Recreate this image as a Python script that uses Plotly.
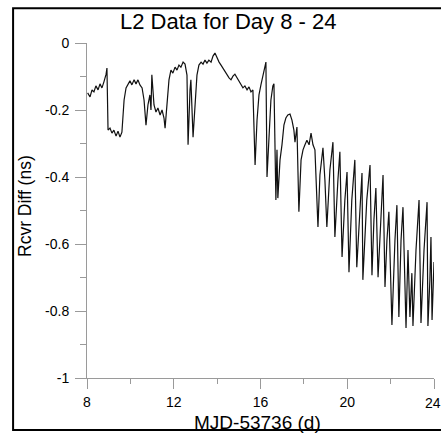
import plotly.graph_objects as go

# Data (MJD-53736 in days, receiver difference in ns)
days = [
    8.03, 8.14, 8.23, 8.32, 8.41, 8.51, 8.60, 8.69, 8.78, 8.88, 8.92,
    8.97, 9.06, 9.15, 9.24, 9.34, 9.43, 9.52, 9.61, 9.71, 9.80, 9.89,
    9.98, 10.07, 10.17, 10.26, 10.35, 10.44, 10.54, 10.63, 10.72, 10.81,
    10.90, 10.95, 10.99, 11.09, 11.18, 11.27, 11.37, 11.46, 11.55, 11.60,
    11.69, 11.78, 11.87, 11.96, 12.06, 12.15, 12.24, 12.33, 12.43, 12.52,
    12.61, 12.66, 12.75, 12.79, 12.89, 12.98, 13.07, 13.16, 13.26, 13.35,
    13.44, 13.53, 13.62, 13.72, 13.81, 13.90, 13.99, 14.09, 14.18, 14.27,
    14.36, 14.45, 14.55, 14.64, 14.73, 14.82, 14.92, 15.01, 15.10, 15.19,
    15.28, 15.38, 15.47, 15.56, 15.65, 15.75, 15.84, 15.93, 16.02, 16.11,
    16.20, 16.25, 16.30, 16.39, 16.48, 16.57, 16.62, 16.71, 16.76, 16.80,
    16.90, 16.99, 17.08, 17.17, 17.26, 17.36, 17.45, 17.54, 17.59, 17.68,
    17.77, 17.87, 17.96, 18.05, 18.14, 18.24, 18.33, 18.42, 18.51, 18.65,
    18.74, 18.88, 18.97, 19.06, 19.20, 19.34, 19.43, 19.57, 19.66, 19.76,
    19.89, 19.99, 20.08, 20.21, 20.35, 20.44, 20.59, 20.68, 20.72, 20.90,
    21.05, 21.14, 21.23, 21.32, 21.42, 21.55, 21.65, 21.74, 21.83, 21.92,
    22.06, 22.20, 22.29, 22.38, 22.48, 22.57, 22.71, 22.80, 22.89, 22.98,
    23.03, 23.17, 23.31, 23.40, 23.54, 23.68, 23.72, 23.81, 23.86, 23.91,
    24.00,
]
rcvr_diff = [
    -0.149, -0.161, -0.140, -0.146, -0.128, -0.140, -0.122, -0.134, -0.116, -0.093, -0.075,
    -0.260, -0.254, -0.269, -0.260, -0.278, -0.263, -0.281, -0.266, -0.170, -0.134, -0.122,
    -0.113, -0.125, -0.110, -0.122, -0.110, -0.125, -0.134, -0.170, -0.245, -0.185,
    -0.155, -0.200, -0.095, -0.185, -0.206, -0.194, -0.215, -0.200, -0.224, -0.254,
    -0.170, -0.110, -0.081, -0.090, -0.072, -0.081, -0.066, -0.072, -0.057, -0.063,
    -0.096, -0.304, -0.140, -0.110, -0.281, -0.170, -0.096, -0.066, -0.057, -0.063,
    -0.051, -0.060, -0.051, -0.057, -0.039, -0.030, -0.045, -0.057, -0.066, -0.075,
    -0.087, -0.096, -0.104, -0.110, -0.099, -0.093, -0.104, -0.116, -0.125, -0.134,
    -0.128, -0.140, -0.131, -0.146, -0.140, -0.364, -0.230, -0.155, -0.125, -0.096,
    -0.063, -0.057, -0.400, -0.260, -0.170, -0.128, -0.122, -0.469, -0.319, -0.463,
    -0.349, -0.304, -0.245, -0.224, -0.215, -0.212, -0.230, -0.260, -0.296, -0.251,
    -0.504, -0.349, -0.319, -0.304, -0.290, -0.304, -0.269, -0.304, -0.319, -0.549,
    -0.394, -0.313, -0.409, -0.549, -0.379, -0.296, -0.579, -0.409, -0.325, -0.639,
    -0.469, -0.385, -0.684, -0.469, -0.349, -0.669, -0.499, -0.388, -0.707, -0.469,
    -0.364, -0.693, -0.528, -0.433, -0.699, -0.499, -0.394, -0.728, -0.588, -0.504,
    -0.842, -0.588, -0.484, -0.818, -0.588, -0.490, -0.851, -0.618, -0.818, -0.687,
    -0.845, -0.618, -0.469, -0.836, -0.618, -0.475, -0.845, -0.707, -0.579, -0.827,
    -0.654,
]

x_tick_vals = [8, 12, 16, 20, 24]
x_tick_text = ["8", "12", "16", "20", "24"]
y_tick_vals = [0, -0.2, -0.4, -0.6, -0.8, -1]
y_tick_text = ["0", "-0.2", "-0.4", "-0.6", "-0.8", "-1"]

title_text = "L2 Data for Day 8 - 24"
x_title = "MJD-53736 (d)"
y_title = "Rcvr Diff (ns)"

axis_grey = "#9a9a9a"
font_family = "Liberation Sans, Arial, sans-serif"

fig = go.Figure()
fig.add_trace(go.Scatter(
    x=days, y=rcvr_diff, mode="lines",
    line=dict(color="#111111", width=1.2),
    showlegend=False, hoverinfo="skip",
))

fig.update_layout(
    width=441, height=433,
    margin=dict(l=87, r=7, t=43, b=55, autoexpand=False),
    paper_bgcolor="white", plot_bgcolor="white",
    font=dict(family=font_family, color="black"),
    showlegend=False,
)

# all x tick labels but the last drawn by the axis; the last one (at the
# picture edge) is drawn as an annotation so it is not hidden
fig.update_xaxes(
    range=[8, 24], tickmode="array", tickvals=x_tick_vals,
    ticktext=x_tick_text[:-1] + [""],
    ticks="outside", ticklen=10, tickcolor=axis_grey, tickwidth=1,
    minor=dict(dtick=2, tick0=8, ticks="outside", ticklen=5, tickcolor=axis_grey),
    showline=True, linecolor=axis_grey, linewidth=1,
    showgrid=False, zeroline=False, ticklabelstandoff=1,
    tickfont=dict(size=14, color="black"),
)
fig.update_yaxes(
    range=[-1, 0], tickmode="array", tickvals=y_tick_vals, ticktext=y_tick_text,
    ticks="outside", ticklen=11, tickcolor=axis_grey, tickwidth=1,
    minor=dict(dtick=0.1, tick0=0, ticks="outside", ticklen=6, tickcolor=axis_grey),
    showline=True, linecolor=axis_grey, linewidth=1,
    showgrid=False, zeroline=False, ticklabelstandoff=3,
    tickfont=dict(size=14, color="black"),
)

fig.add_annotation(text=x_tick_text[-1], x=x_tick_vals[-1], xref="x", xshift=-1,
                   yref="paper", y=(378 - 403) / 335, showarrow=False,
                   xanchor="center", yanchor="middle",
                   font=dict(size=14, color="black", family=font_family))

# Outer frame (right edge runs off the picture, as in the reference)
fig.add_shape(type="rect", xref="paper", yref="paper",
              x0=-0.213, x1=1.035, y0=-0.155, y1=1.104,
              line=dict(color="black", width=2), fillcolor="rgba(0,0,0,0)")

fig.add_annotation(text=title_text, xref="paper", yref="paper",
                   x=(228 - 87) / 347, y=(378 - 22) / 335, showarrow=False,
                   xanchor="center", yanchor="middle",
                   font=dict(size=22, color="black", family=font_family))
fig.add_annotation(text=x_title, xref="paper", yref="paper",
                   x=(257 - 87) / 347, y=(378 - 422) / 335, showarrow=False,
                   xanchor="center", yanchor="middle",
                   font=dict(size=19, color="black", family=font_family))
fig.add_annotation(text=y_title, xref="paper", yref="paper",
                   x=(25 - 87) / 347, y=(378 - 206) / 335, showarrow=False,
                   xanchor="center", yanchor="middle", textangle=-90,
                   font=dict(size=17.5, color="black", family=font_family))

fig.write_html("out.html", config={"displayModeBar": False},
               post_script="document.body.style.margin='0';document.body.style.overflow='hidden';")
